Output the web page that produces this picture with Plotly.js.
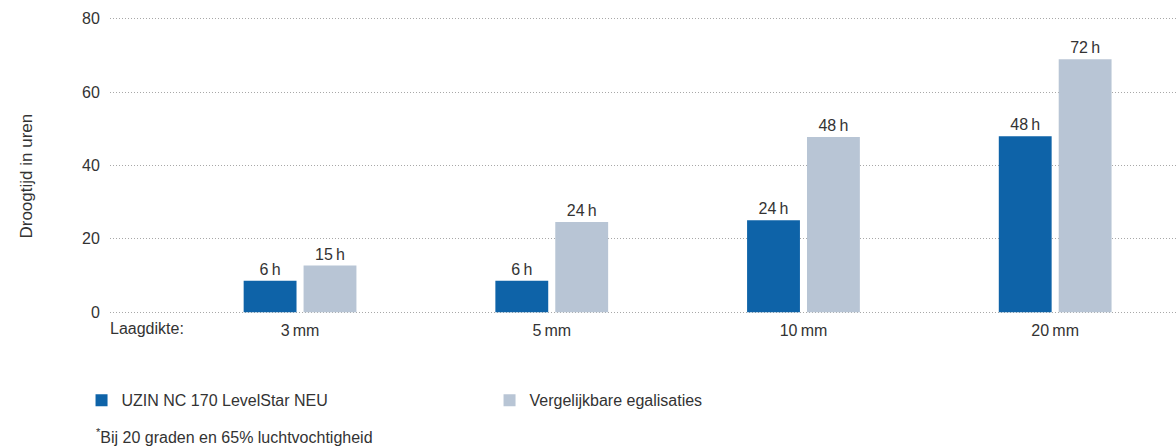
<!DOCTYPE html>
<html>
<head>
<meta charset="utf-8">
<script src="https://cdn.plot.ly/plotly-3.0.1.min.js"></script>
<style>html,body{margin:0;padding:0;background:#fff;}#chart{width:1176px;height:448px;}</style>
</head>
<body>
<div id="chart"></div>
<script>
// Data
const categories = ["3\u2009mm", "5\u2009mm", "10\u2009mm", "20\u2009mm"];
const seriesNames = ["UZIN NC 170 LevelStar NEU", "Vergelijkbare egalisaties"];
const uzinValues = [8.6, 8.6, 25.1, 48.0];
const uzinLabels = ["6\u2009h", "6\u2009h", "24\u2009h", "48\u2009h"];
const compareValues = [12.7, 24.6, 47.8, 69.0];
const compareLabels = ["15\u2009h", "24\u2009h", "48\u2009h", "72\u2009h"];
const yTicks = [0, 20, 40, 60, 80];
const axisLabel = "Laagdikte:";
const yTitle = "Droogtijd in uren";
const footnote = "<sup>*</sup>Bij 20 graden en 65% luchtvochtigheid";

const xPos = categories.map((c, i) => i + 1);
const font = {family: "Liberation Sans, Arial, sans-serif", size: 16, color: "#333333"};

const traces = [
  {
    type: "bar", name: seriesNames[0], x: xPos, y: uzinValues,
    text: uzinLabels, textposition: "outside", cliponaxis: false,
    textfont: {family: font.family, size: 16, color: "#333333"},
    marker: {color: "#0e63a8"}, width: 0.21, offset: -0.224,
    hoverinfo: "skip"
  },
  {
    type: "bar", name: seriesNames[1], x: xPos, y: compareValues,
    text: compareLabels, textposition: "outside", cliponaxis: false,
    textfont: {family: font.family, size: 16, color: "#333333"},
    marker: {color: "#b8c5d5"}, width: 0.21, offset: 0.014,
    hoverinfo: "skip"
  }
];

const layout = {
  width: 1176, height: 448,
  margin: {l: 110, r: 0, t: 16.66, b: 133.86},
  paper_bgcolor: "#ffffff", plot_bgcolor: "#ffffff",
  font: font,
  showlegend: true,
  barmode: "overlay",
  xaxis: {
    range: [0.245, 4.48], tickmode: "array", tickvals: xPos, ticktext: categories,
    showgrid: false, zeroline: false, showline: false,
    ticks: "outside", ticklen: 2, tickcolor: "rgba(0,0,0,0)",
    tickfont: font, fixedrange: true
  },
  yaxis: {
    range: [-0.5, 80.5], tickmode: "array", tickvals: yTicks,
    showgrid: true, gridcolor: "#a8a8a8", griddash: "1px,2px", gridwidth: 1,
    zeroline: false, showline: false,
    ticks: "outside", ticklen: 6, tickcolor: "rgba(0,0,0,0)",
    tickfont: font, fixedrange: true
  },
  legend: {
    orientation: "h", x: -0.0267, xanchor: "left", y: -0.2906, yanchor: "middle",
    font: font, entrywidth: 363, entrywidthmode: "pixels", traceorder: "normal",
    bgcolor: "rgba(0,0,0,0)"
  },
  annotations: [
    {text: yTitle, xref: "paper", yref: "paper", x: -0.0779, y: 0.4661, textangle: -90,
     xanchor: "center", yanchor: "middle", showarrow: false,
     font: {family: font.family, size: 17, color: "#333333"}},
    {text: axisLabel, xref: "paper", yref: "paper", x: -0.002, y: -0.05,
     xanchor: "left", yanchor: "middle", showarrow: false, font: font},
    {text: footnote, xref: "paper", yref: "paper", x: -0.015, y: -0.41,
     xanchor: "left", yanchor: "middle", showarrow: false, font: font}
  ]
};

Plotly.newPlot("chart", traces, layout, {displayModeBar: false, staticPlot: true});
</script>
</body>
</html>
